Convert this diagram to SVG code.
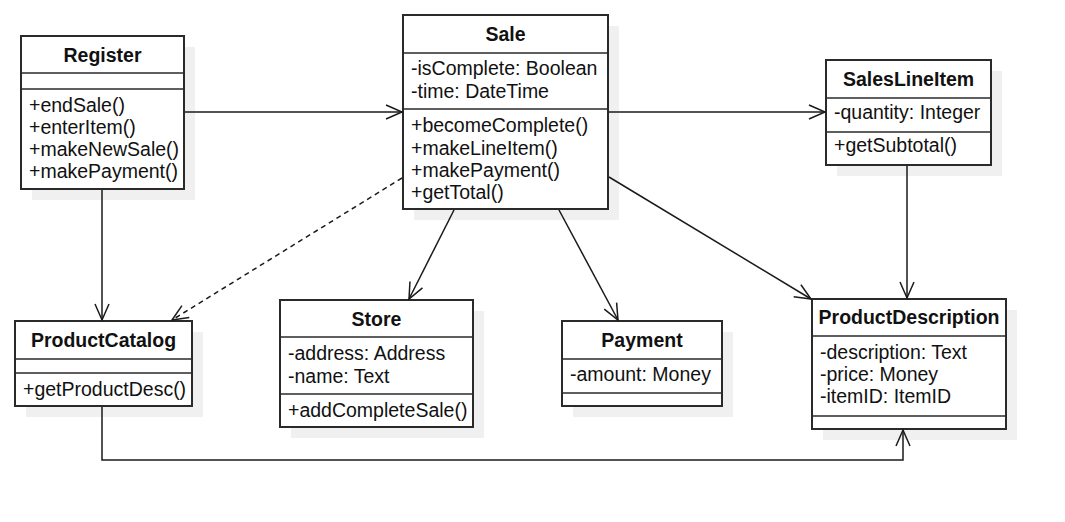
<svg xmlns="http://www.w3.org/2000/svg" width="1065" height="522" viewBox="0 0 1065 522">
<style>
.bg{fill:#ffffff}
.sh{fill:#f0f0f0}
.box{fill:#ffffff;stroke:#2a2a2a;stroke-width:2}
.div{stroke:#2a2a2a;stroke-width:1.6}
.t{font-family:"Liberation Sans",Arial,sans-serif;font-size:19.5px;fill:#111}
.h{font-weight:bold;text-anchor:middle}
.c{fill:none;stroke:#1a1a1a;stroke-width:1.5}
.d{stroke-dasharray:5 4}
</style>
<defs>
<marker id="open" markerUnits="userSpaceOnUse" markerWidth="20" markerHeight="18" viewBox="-18 -9 20 18" refX="0" refY="0" orient="auto">
<path d="M-16,-7 L0,0 L-16,7" fill="none" stroke="#1a1a1a" stroke-width="1.5"/>
</marker>
</defs>
<rect class="bg" x="0" y="0" width="1065" height="522"/>

<g id="Register">
<rect class="sh" x="32" y="47" width="163" height="153"/>
<rect class="box" x="21" y="36" width="163" height="153"/>
<line class="div" x1="21" y1="73" x2="184" y2="73"/>
<line class="div" x1="21" y1="89" x2="184" y2="89"/>
<text class="t h" x="102.5" y="61.5">Register</text>
<text class="t" x="29" y="112">+endSale()</text>
<text class="t" x="29" y="134">+enterItem()</text>
<text class="t" x="29" y="156">+makeNewSale()</text>
<text class="t" x="29" y="178">+makePayment()</text>
</g>

<g id="Sale">
<rect class="sh" x="414" y="26" width="205" height="194"/>
<rect class="box" x="403" y="15" width="205" height="194"/>
<line class="div" x1="403" y1="53" x2="608" y2="53"/>
<line class="div" x1="403" y1="109" x2="608" y2="109"/>
<text class="t h" x="505.5" y="40.7">Sale</text>
<text class="t" x="411" y="75">-isComplete: Boolean</text>
<text class="t" x="411" y="97.5">-time: DateTime</text>
<text class="t" x="411" y="132.3">+becomeComplete()</text>
<text class="t" x="411" y="154.5">+makeLineItem()</text>
<text class="t" x="411" y="176.7">+makePayment()</text>
<text class="t" x="411" y="199">+getTotal()</text>
</g>

<g id="SalesLineItem">
<rect class="sh" x="837" y="71" width="165" height="105"/>
<rect class="box" x="826" y="60" width="165" height="105"/>
<line class="div" x1="826" y1="98" x2="991" y2="98"/>
<line class="div" x1="826" y1="132" x2="991" y2="132"/>
<text class="t h" x="908.5" y="85.6">SalesLineItem</text>
<text class="t" x="834" y="118.5">-quantity: Integer</text>
<text class="t" x="834" y="152">+getSubtotal()</text>
</g>

<g id="ProductCatalog">
<rect class="sh" x="26" y="332" width="177" height="85"/>
<rect class="box" x="15" y="321" width="177" height="85"/>
<line class="div" x1="15" y1="359" x2="192" y2="359"/>
<line class="div" x1="15" y1="373" x2="192" y2="373"/>
<text class="t h" x="103.5" y="346.8">ProductCatalog</text>
<text class="t" x="23" y="396">+getProductDesc()</text>
</g>

<g id="Store">
<rect class="sh" x="291" y="311" width="193" height="127"/>
<rect class="box" x="280" y="300" width="193" height="127"/>
<line class="div" x1="280" y1="337" x2="473" y2="337"/>
<line class="div" x1="280" y1="394" x2="473" y2="394"/>
<text class="t h" x="376.5" y="325.5">Store</text>
<text class="t" x="288" y="360">-address: Address</text>
<text class="t" x="288" y="382.5">-name: Text</text>
<text class="t" x="288" y="417">+addCompleteSale()</text>
</g>

<g id="Payment">
<rect class="sh" x="573" y="332" width="160" height="85"/>
<rect class="box" x="562" y="321" width="160" height="85"/>
<line class="div" x1="562" y1="359" x2="722" y2="359"/>
<line class="div" x1="562" y1="393" x2="722" y2="393"/>
<text class="t h" x="642" y="346.8">Payment</text>
<text class="t" x="570" y="381">-amount: Money</text>
</g>

<g id="ProductDescription">
<rect class="sh" x="823" y="310" width="194" height="130"/>
<rect class="box" x="812" y="299" width="194" height="130"/>
<line class="div" x1="812" y1="336" x2="1006" y2="336"/>
<line class="div" x1="812" y1="416" x2="1006" y2="416"/>
<text class="t h" x="909" y="324">ProductDescription</text>
<text class="t" x="820" y="358.5">-description: Text</text>
<text class="t" x="820" y="380.7">-price: Money</text>
<text class="t" x="820" y="403">-itemID: ItemID</text>
</g>

<g id="connectors">
<path class="c" d="M185 112 H402" marker-end="url(#open)"/>
<path class="c" d="M609 112 H825" marker-end="url(#open)"/>
<path class="c" d="M102 190 V320" marker-end="url(#open)"/>
<path class="c d" d="M402 178 L172 320" marker-end="url(#open)"/>
<path class="c" d="M454 210 L409 299" marker-end="url(#open)"/>
<path class="c" d="M559 210 L618 320" marker-end="url(#open)"/>
<path class="c" d="M609 177 L811 299" marker-end="url(#open)"/>
<path class="c" d="M907 166 V298" marker-end="url(#open)"/>
<path class="c" d="M102 407 V460 H903 V430" marker-end="url(#open)"/>
</g>
</svg>
